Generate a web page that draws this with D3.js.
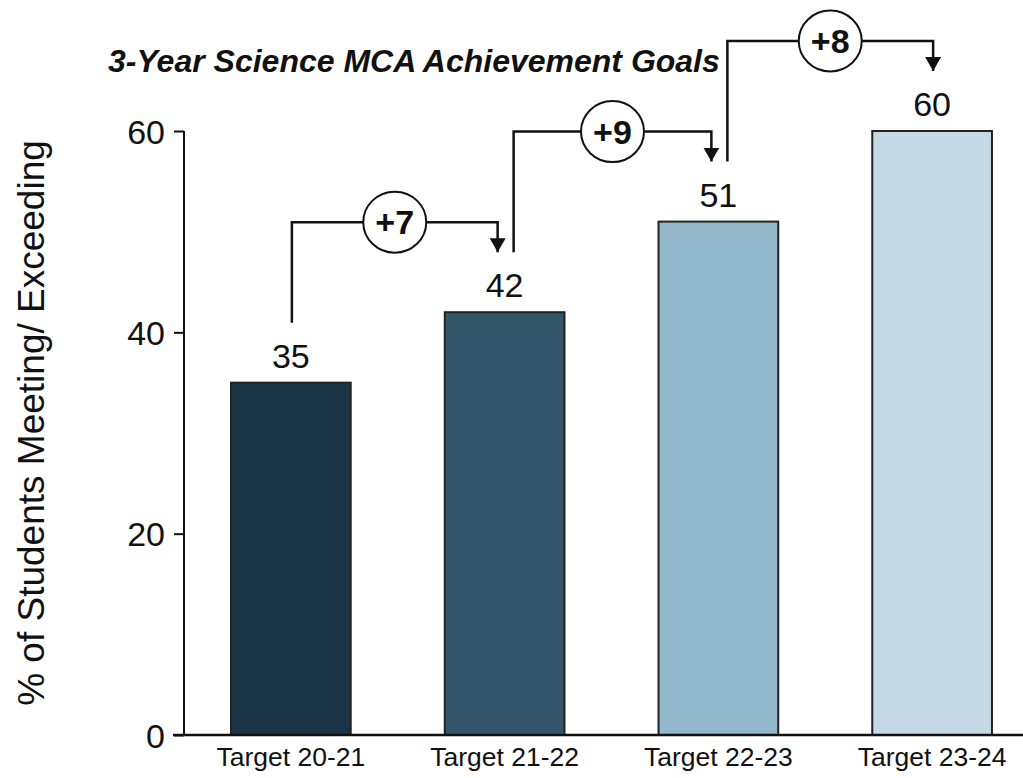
<!DOCTYPE html>
<html>
<head>
<meta charset="utf-8">
<script src="https://cdn.jsdelivr.net/npm/d3@7"></script>
<style>
  html, body { margin: 0; padding: 0; background: #fff; }
  svg { display: block; font-family: "Liberation Sans", Arial, sans-serif; }
</style>
</head>
<body>
<svg id="chart" width="1023" height="778"></svg>
<script>
// Science MCA targets by school year
const categories = ["Target 20-21", "Target 21-22", "Target 22-23", "Target 23-24"];
const values = [35, 42, 51, 60];
const barColors = ["#1a3646", "#34566a", "#93b8cc", "#c4d9e3"];
const stepLabels = ["+7", "+9", "+8"];
const yTicks = [0, 20, 40, 60];
const chartTitle = "3-Year Science MCA Achievement Goals";
const yTitle = "% of Students Meeting/ Exceeding";

const svg = d3.select("#chart");
const W = 1023, H = 778;
const plot = { left: 184, right: 1039, top: 131, bottom: 735 };

const x = d3.scaleBand()
  .domain(categories)
  .range([plot.left, plot.right])
  .paddingInner(0.44)
  .paddingOuter(0.22);

const y = d3.scaleLinear()
  .domain([0, 60])
  .range([plot.bottom, plot.top]);

// Bars
svg.append("g").selectAll("rect")
  .data(values)
  .join("rect")
  .attr("x", (d, i) => x(categories[i]))
  .attr("y", d => y(d))
  .attr("width", x.bandwidth())
  .attr("height", d => y(0) - y(d))
  .attr("fill", (d, i) => barColors[i])
  .attr("stroke", "#222")
  .attr("stroke-width", 2);

// Value labels
svg.append("g").selectAll("text")
  .data(values)
  .join("text")
  .attr("x", (d, i) => x(categories[i]) + x.bandwidth() / 2)
  .attr("y", d => y(d) - 15)
  .attr("text-anchor", "middle")
  .attr("font-size", 34)
  .attr("fill", "#111")
  .text(d => d);

// Y axis
const yAxis = svg.append("g")
  .attr("transform", `translate(${plot.left},0)`)
  .call(d3.axisLeft(y).tickValues(yTicks).tickSize(10).tickPadding(9).tickFormat(d3.format("d")));
yAxis.select(".domain").attr("stroke", "#111").attr("stroke-width", 2).attr("d", `M0,${plot.top}V${plot.bottom}`);
yAxis.selectAll(".tick line").attr("stroke", "#111").attr("stroke-width", 2);
yAxis.selectAll(".tick text")
  .attr("font-size", 34)
  .attr("font-family", "Liberation Sans, Arial, sans-serif")
  .attr("fill", "#111")
  .attr("dy", "0.36em");

// X axis
const xAxis = svg.append("g")
  .attr("transform", `translate(0,${plot.bottom})`)
  .call(d3.axisBottom(x).tickSize(0).tickPadding(12));
xAxis.select(".domain").attr("stroke", "#111").attr("stroke-width", 2.5).attr("d", `M${plot.left - 11},0H${W}`);
xAxis.selectAll(".tick text")
  .attr("font-size", 26.5)
  .attr("font-family", "Liberation Sans, Arial, sans-serif")
  .attr("fill", "#111")
  .attr("dy", "0.72em");

// Y axis title
svg.append("text")
  .attr("transform", `translate(44,423) rotate(-90)`)
  .attr("text-anchor", "middle")
  .attr("font-size", 37)
  .attr("fill", "#111")
  .text(yTitle);

// Chart title
svg.append("text")
  .attr("x", 108)
  .attr("y", 72)
  .attr("font-size", 32)
  .attr("font-weight", "bold")
  .attr("font-style", "italic")
  .attr("fill", "#111")
  .text(chartTitle);

// Step-up connectors between consecutive targets
const defs = svg.append("defs");
defs.append("marker")
  .attr("id", "arrow")
  .attr("viewBox", "0 0 16 14")
  .attr("refX", 8).attr("refY", 14)
  .attr("markerWidth", 16).attr("markerHeight", 14)
  .attr("markerUnits", "userSpaceOnUse")
  .attr("orient", "0")
  .append("path")
  .attr("d", "M0,0L16,0L8,14Z")
  .attr("fill", "#111");

const steps = stepLabels.map((label, i) => ({ from: i, to: i + 1, label }));
const cx = i => x(categories[i]) + x.bandwidth() / 2;

const g = svg.append("g");
steps.forEach(s => {
  const x0 = cx(s.from) + (s.from > 0 ? 9 : 1);
  const x1 = cx(s.to) + (s.to < values.length - 1 ? -7 : 1);
  const yStart = y(values[s.from]) - 60;
  const yTip = y(values[s.to]) - 60;
  const yLevel = y(values[s.to]) - 90;
  g.append("path")
    .attr("d", `M${x0},${yStart}V${yLevel}H${x1}V${yTip}`)
    .attr("fill", "none")
    .attr("stroke", "#111")
    .attr("stroke-width", 2.5)
    .attr("marker-end", "url(#arrow)");
  const mx = (x0 + x1) / 2;
  g.append("ellipse")
    .attr("cx", mx).attr("cy", yLevel)
    .attr("rx", 31.5).attr("ry", 30.5)
    .attr("fill", "#fff")
    .attr("stroke", "#111")
    .attr("stroke-width", 2);
  g.append("text")
    .attr("x", mx).attr("y", yLevel)
    .attr("dy", "0.36em")
    .attr("text-anchor", "middle")
    .attr("font-size", 34)
    .attr("font-weight", "bold")
    .attr("fill", "#111")
    .text(s.label);
});
</script>
</body>
</html>
